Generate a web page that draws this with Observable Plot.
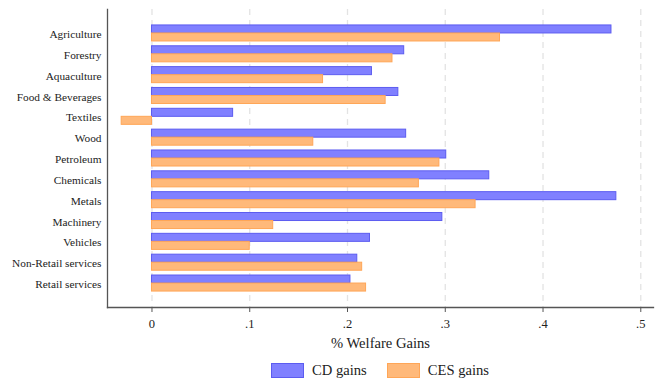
<!DOCTYPE html>
<html>
<head>
<meta charset="utf-8">
<script src="https://cdn.jsdelivr.net/npm/d3@7"></script>
<script src="https://cdn.jsdelivr.net/npm/@observablehq/plot@0.6"></script>
<style>
  html, body { margin: 0; padding: 0; background: #fff; }
  #chart { width: 662px; }
  #chart svg, #chart svg text { font-family: "Liberation Serif", "Times New Roman", "DejaVu Serif", serif !important; }
  #legend { display: flex; justify-content: center; align-items: center; height: 28px; padding-left: 98px; padding-top: 2px; box-sizing: border-box; width: 662px;
            font-family: "Liberation Serif", "Times New Roman", "DejaVu Serif", serif; font-size: 14.6px; color: #222; }
  .sw { width: 33px; height: 15px; box-sizing: border-box; margin-right: 8px; }
  .item { display: flex; align-items: center; margin: 0 10px; }
</style>
</head>
<body>
<div id="chart"></div>
<script>
const categories = ["Agriculture","Forestry","Aquaculture","Food & Beverages","Textiles","Wood","Petroleum","Chemicals","Metals","Machinery","Vehicles","Non-Retail services","Retail services"];
const cdGains  = [0.470, 0.258, 0.225, 0.252, 0.083, 0.260, 0.301, 0.345, 0.475, 0.297, 0.223, 0.210, 0.203];
const cesGains = [0.356, 0.246, 0.175, 0.239, -0.031, 0.165, 0.294, 0.273, 0.331, 0.124, 0.100, 0.215, 0.219];
const seriesNames = ["CD gains", "CES gains"];
const xTicks = [0, 0.1, 0.2, 0.3, 0.4, 0.5];

const colors = {
  "CD gains":  {fill: "#8080ff", stroke: "#5c5cf0"},
  "CES gains": {fill: "#ffb97a", stroke: "#ffa657"}
};

const cd  = categories.map((c, i) => ({cat: c, v: cdGains[i]}));
const ces = categories.map((c, i) => ({cat: c, v: cesGains[i]}));

const H = 355, T = 9, B = 48;
const plotH = H - T - B;
const pI = 0.23, pO = 0.765;
const step = plotH / (categories.length - pI + 2 * pO);
const bw = step * (1 - pI);
const half = bw / 2;

const fmt = d => d === 0 ? "0" : d.toFixed(1).replace(/^0/, "");

const chart = Plot.plot({
  width: 662,
  height: H,
  marginLeft: 107,
  marginRight: 9,
  marginTop: T,
  marginBottom: B,
  style: "font-family: 'Liberation Serif', 'Times New Roman', serif; font-size: 12px; color: #222; background: #fff;",
  x: {domain: [-0.0455, 0.513]},
  y: {domain: categories, paddingInner: pI, paddingOuter: pO, round: false},
  marks: [
    Plot.gridX(xTicks, {stroke: "#e3e3e3", strokeOpacity: 1, strokeWidth: 1.3, strokeDasharray: "6,5"}),
    Plot.barX(cd, {x: "v", y: "cat", insetBottom: half, fill: colors["CD gains"].fill, stroke: colors["CD gains"].stroke, strokeWidth: 1}),
    Plot.barX(ces, {x: "v", y: "cat", insetTop: half, fill: colors["CES gains"].fill, stroke: colors["CES gains"].stroke, strokeWidth: 1}),
    Plot.axisY({tickSize: 0, tickPadding: 6, label: null, fontSize: 11.3, dy: 1}),
    Plot.axisX(xTicks, {tickSize: 5, tickPadding: 7, tickFormat: fmt, stroke: "#555", fontSize: 12.5, label: null}),
    Plot.axisX({label: "% Welfare Gains", labelAnchor: "center", labelArrow: "none", labelOffset: 40, ticks: [], tickSize: 0, fontSize: 14.6}),
    Plot.frame({anchor: "bottom", stroke: "#555", strokeWidth: 1.3}),
    Plot.frame({anchor: "left", stroke: "#555", strokeWidth: 1.3})
  ]
});
document.getElementById("chart").appendChild(chart);

const legend = document.createElement("div");
legend.id = "legend";
seriesNames.forEach(n => {
  const it = document.createElement("div");
  it.className = "item";
  const sw = document.createElement("div");
  sw.className = "sw";
  sw.style.background = colors[n].fill;
  sw.style.border = "1.5px solid " + colors[n].stroke;
  const tx = document.createElement("span");
  tx.textContent = n;
  it.appendChild(sw); it.appendChild(tx);
  legend.appendChild(it);
});
document.getElementById("chart").appendChild(legend);
</script>
</body>
</html>
